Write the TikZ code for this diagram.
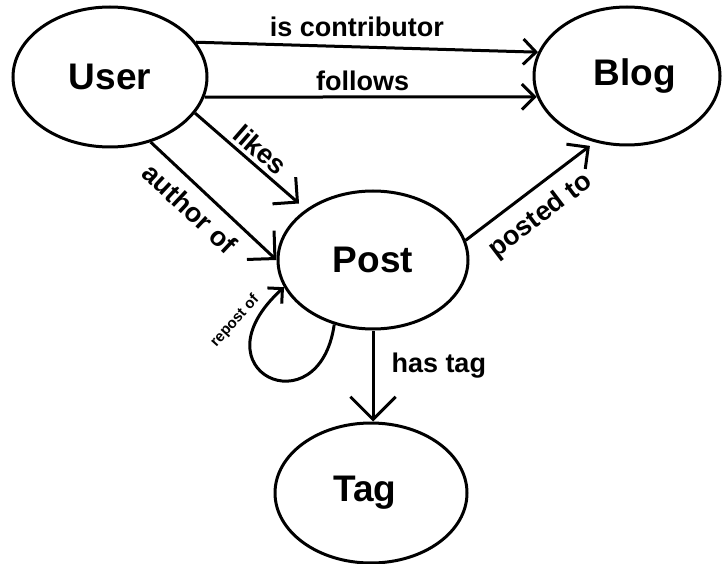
\documentclass[tikz,border=0pt]{standalone}
\usepackage{fontspec}
\setmainfont{Liberation Sans}
\usetikzlibrary{arrows.meta,shapes.geometric}
\tikzset{
  entity/.style={draw, ellipse, line width=3pt, inner sep=0pt,
    font=\fontsize{37}{40}\selectfont\bfseries},
  link/.style={line width=3pt, -{Straight Barb[angle=90:#1]}},
  lbl/.style={font=\fontsize{27}{30}\selectfont\bfseries, inner sep=0pt},
  smalllbl/.style={font=\fontsize{15}{17}\selectfont\bfseries, inner sep=0pt},
}
\begin{document}
\begin{tikzpicture}[x=1pt,y=-1pt]
\useasboundingbox (0,0) rectangle (723,564);

% entities
\node[entity, minimum width=194pt, minimum height=140pt] (user) at (110,77) {User};
\node[entity, minimum width=186pt, minimum height=138pt] (blog) at (627,76) {\hspace*{16pt}Blog};
\node[entity, minimum width=190pt, minimum height=138pt] (post) at (373,260) {Post};
\node[entity, minimum width=192pt, minimum height=140pt] (tag) at (371,493) {Tag\hspace*{12pt}};

% relations
\draw[link=18pt] (user.22) -- node[lbl, pos=0.47, above=9pt] {is contributor} (blog.165);
\draw[link=18pt] (user.-12) -- node[lbl, pos=0.476, above=5pt] {follows} (blog.193);
\draw[link=25pt, shorten >=9pt] (user.-23) -- node[lbl, midway, sloped, above=4pt] {likes} (post.143);
\draw[link=28pt] (user.-58) -- node[lbl, pos=0.43, sloped, below=10pt] {author of} (post.west);
\draw[link=22pt, shorten >=6pt] (post.12) -- node[lbl, pos=0.46, sloped, below=12pt] {posted to} (blog.244);
\draw[link=32pt] (post.south) -- node[lbl, pos=0.39, right=17pt] {has tag} (post.south |- tag.north);

% self loop
\draw[link=15pt] (post.239) .. controls +(-15,105) and +(-92,84) .. (post.197);
\node[smalllbl, rotate=48] (replbl) at (235,321) {repost of};
\end{tikzpicture}
\end{document}
